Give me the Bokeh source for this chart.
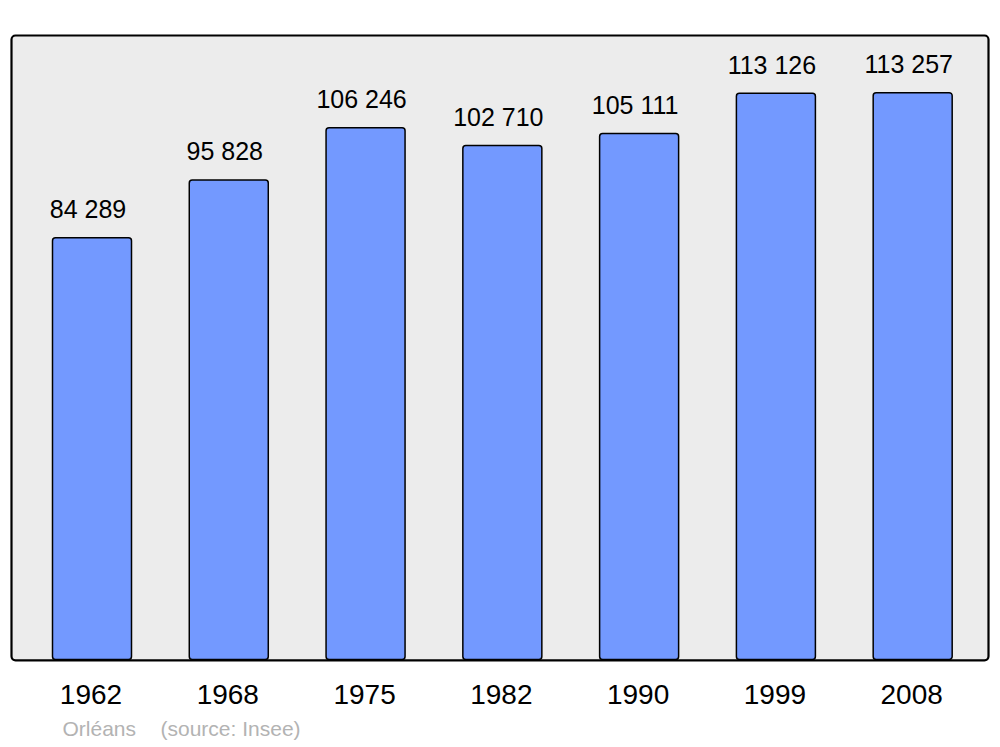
from bokeh.plotting import figure
from bokeh.models import ColumnDataSource, Range1d
from bokeh.embed import file_html
from bokeh.resources import INLINE
from bokeh.core.properties import value

years = ["1962", "1968", "1975", "1982", "1990", "1999", "2008"]
population = [84289, 95828, 106246, 102710, 105111, 113126, 113257]
labels = ["84 289", "95 828", "106 246", "102 710", "105 111", "113 126", "113 257"]
place = "Orléans"
source_note = "(source: Insee)"

W, H = 998, 745
# pixel geometry (figure coords)
x0_px, step_px = 91.5, 136.78
base_px, vpp = 659.0, 199.8  # baseline from top, values per pixel
TXT_FIX = -10  # empirical baseline correction

x_start = -x0_px / step_px
x_end = (W - x0_px) / step_px
y_start = -(H - base_px) * vpp
y_end = base_px * vpp

p = figure(width=W, height=H, output_backend="svg", toolbar_location=None,
           x_range=Range1d(x_start, x_end), y_range=Range1d(y_start, y_end),
           min_border=0, min_border_left=0, min_border_right=0,
           min_border_top=0, min_border_bottom=0)
p.axis.visible = False
p.grid.visible = False
p.outline_line_color = None
p.background_fill_color = "white"
p.border_fill_color = "white"

def px_x(sx):
    return (sx - x0_px) / step_px

def px_y(sy):
    return (base_px - sy) * vpp

# panel
p.quad(left=[px_x(11)], right=[px_x(988)], top=[px_y(35)], bottom=[px_y(659.8)],
       fill_color="#ececec", line_color="#000000", line_width=2.2, border_radius=4)

xs = list(range(len(years)))
src = ColumnDataSource(dict(x=xs, top=population, lab=labels, year=years))

p.vbar(x="x", top="top", bottom=0, width=79 / step_px, source=src,
       fill_color="#7399ff", line_color="#000000", line_width=1.5, border_radius=3)

p.text(x="x", y="top", text="lab", source=src, x_offset=-4, y_offset=-18.5 + TXT_FIX,
       text_align="center", text_baseline="alphabetic",
       text_font=value("Liberation Sans"), text_font_size="25px", text_color="#000000")

p.text(x="x", y=px_y(704.3), text="year", source=src, x_offset=-1, y_offset=TXT_FIX,
       text_align="center", text_baseline="alphabetic",
       text_font=value("Liberation Sans"), text_font_size="28px", text_color="#000000")

p.text(x=[px_x(62)], y=[px_y(738)], text=[place], text_align="left", y_offset=TXT_FIX,
       text_baseline="alphabetic", text_font=value("Liberation Sans"),
       text_font_size="21px", text_color="#b3b3b3")
p.text(x=[px_x(160)], y=[px_y(738)], text=[source_note], text_align="left", y_offset=TXT_FIX,
       text_baseline="alphabetic", text_font=value("Liberation Sans"),
       text_font_size="21px", text_color="#b3b3b3")

open("out.html", "w").write(file_html(p, INLINE))
